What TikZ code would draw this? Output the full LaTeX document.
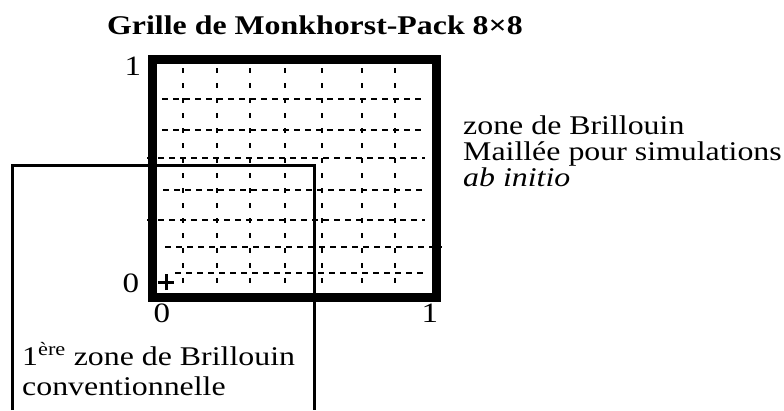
\documentclass[tikz,border=0pt]{standalone}
\usepackage{fontspec}
\setmainfont[FakeStretch=1.18]{Liberation Serif}
\usepackage{tikz}
\usetikzlibrary{positioning}

\begin{document}
\begin{tikzpicture}[x=1pt, y=-1pt,
    txt/.style={font=\fontsize{27}{26}\selectfont, inner sep=0pt, align=left},
    num/.style={font=\fontsize{28}{28}\selectfont, inner sep=0pt},
    zone/.style={line width=9pt},
    conv/.style={line width=3pt},
    hdash/.style={line width=2pt, dash pattern=on 6pt off 5pt},
    vdash/.style={line width=2pt, dash pattern=on 5pt off 10pt}]
  \useasboundingbox (0,0) rectangle (784,410);

  \node[txt, font=\fontsize{27}{25}\selectfont\bfseries, anchor=base west] (title) at (107,34) {Grille de Monkhorst-Pack 8×8};

  % 1ere zone conventionnelle
  \coordinate (c1) at (12.5,410);
  \coordinate (c2) at (12.5,165.5);
  \coordinate (c3) at (314.5,165.5);
  \coordinate (c4) at (314.5,410);
  \draw[conv] (c1) -- (c2) -- (c3) -- (c4);

  % grille 8x8
  \foreach \x in {183,217,250,285,322,362,395}
    \draw[vdash] (\x,68) -- (\x,292);
  \foreach \y/\a/\b in {99/162/425, 130/162/425, 158/147/425, 190/163/425, 220/147/425, 247/165/442, 273/175/425}
    \draw[hdash] (\a,\y) -- (\b,\y);

  % zone maillee
  \coordinate (sw) at (152.5,297.5);
  \coordinate (ne) at (436,59);
  \draw[zone] (sw) rectangle (ne);

  \coordinate (orig) at (166,282);
  \draw[line width=3pt] ([xshift=-8pt]orig) -- ([xshift=8pt]orig)
    ([yshift=-8pt]orig) -- ([yshift=8pt]orig);

  \node[num] (y1) at (133,66) {1};
  \node[num] (y0) at (131,283) {0};
  \node[num] (x0) at (162,313) {0};
  \node[num] (x1) at (430,313) {1};

  \node[txt, anchor=base west] (maillee) at (463,186) {zone de Brillouin\\Maillée pour simulations\\\textit{ab initio}};
  \node[txt, anchor=base west, font=\fontsize{27}{30}\selectfont] (premiere) at (22,395) {1\textsuperscript{ère} zone de Brillouin\\conventionnelle};
\end{tikzpicture}
\end{document}
